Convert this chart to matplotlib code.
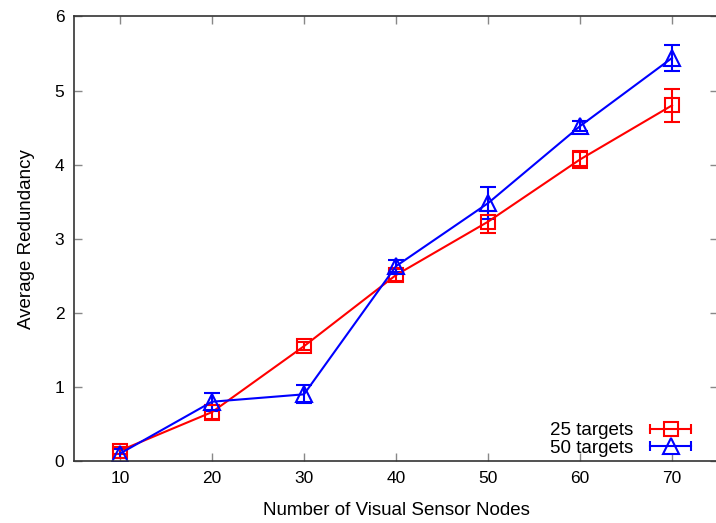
import matplotlib
matplotlib.use("Agg")
import matplotlib.pyplot as plt
from matplotlib.lines import Line2D
from matplotlib.legend_handler import HandlerLine2D, HandlerTuple

plt.rcParams['font.family'] = ['Liberation Sans', 'DejaVu Sans']

nodes = [10, 20, 30, 40, 50, 60, 70]
t25_mean = [0.14, 0.66, 1.55, 2.51, 3.23, 4.07, 4.80]
t25_err = [0.05, 0.10, 0.05, 0.08, 0.15, 0.12, 0.22]
t50_mean = [0.10, 0.80, 0.90, 2.63, 3.48, 4.52, 5.44]
t50_err = [0.06, 0.12, 0.12, 0.08, 0.22, 0.07, 0.17]
labels = ["25 targets", "50 targets"]
x_ticks = [10, 20, 30, 40, 50, 60, 70]
y_ticks = [0, 1, 2, 3, 4, 5, 6]

RED = "#ff0000"
BLUE = "#0000ff"

fig = plt.figure(figsize=(7.16, 5.23), dpi=100)
ax = fig.add_axes([74 / 716, 62 / 523, 644 / 716, 444.5 / 523])

common = dict(linewidth=1.5, elinewidth=1.5, capsize=5.5, capthick=1.5,
              markerfacecolor='none', markeredgewidth=1.5)
ax.errorbar(nodes, t25_mean, yerr=t25_err, color=RED, marker='s',
            markersize=10, **common)
ax.errorbar(nodes, t50_mean, yerr=t50_err, color=BLUE, marker='^',
            markersize=11.5, **common)

ax.set_xlim(5, 75)
ax.set_ylim(0, 6)
ax.set_xticks(x_ticks)
ax.set_yticks(y_ticks)
ax.tick_params(direction='in', length=6, width=1, color='#888888',
               top=True, right=True, labelsize=12.5, pad=7, labelcolor='black')
for s in ax.spines.values():
    s.set_color('#333333')
    s.set_linewidth(1.2)

ax.set_xlabel("Number of Visual Sensor Nodes", fontsize=13.5, labelpad=12)
ax.set_ylabel("Average Redundancy", fontsize=13.5, labelpad=14)

# legend samples in the style of horizontal error bars with a marker
handles = []
hmap = {}
for col, mk, ms in [(RED, 's', 10), (BLUE, '^', 11.5)]:
    bar = Line2D([], [], color=col, linewidth=1.5, marker='|',
                 markersize=7, markeredgewidth=1.5)
    sym = Line2D([], [], color=col, linestyle='none', marker=mk,
                 markersize=ms, markerfacecolor='none', markeredgewidth=1.5)
    hmap[bar] = HandlerLine2D(numpoints=2)
    hmap[sym] = HandlerLine2D(numpoints=1)
    handles.append((bar, sym))
hmap[tuple] = HandlerTuple(ndivide=1, pad=0)
ax.legend(handles, labels, handler_map=hmap, loc='lower right',
          bbox_to_anchor=(0.967, 0.01), frameon=False,
          markerfirst=False, fontsize=13.5, handlelength=2.77,
          labelspacing=0.0, handletextpad=0.64, borderaxespad=0,
          borderpad=0)

fig.savefig("out.png", dpi=100)
